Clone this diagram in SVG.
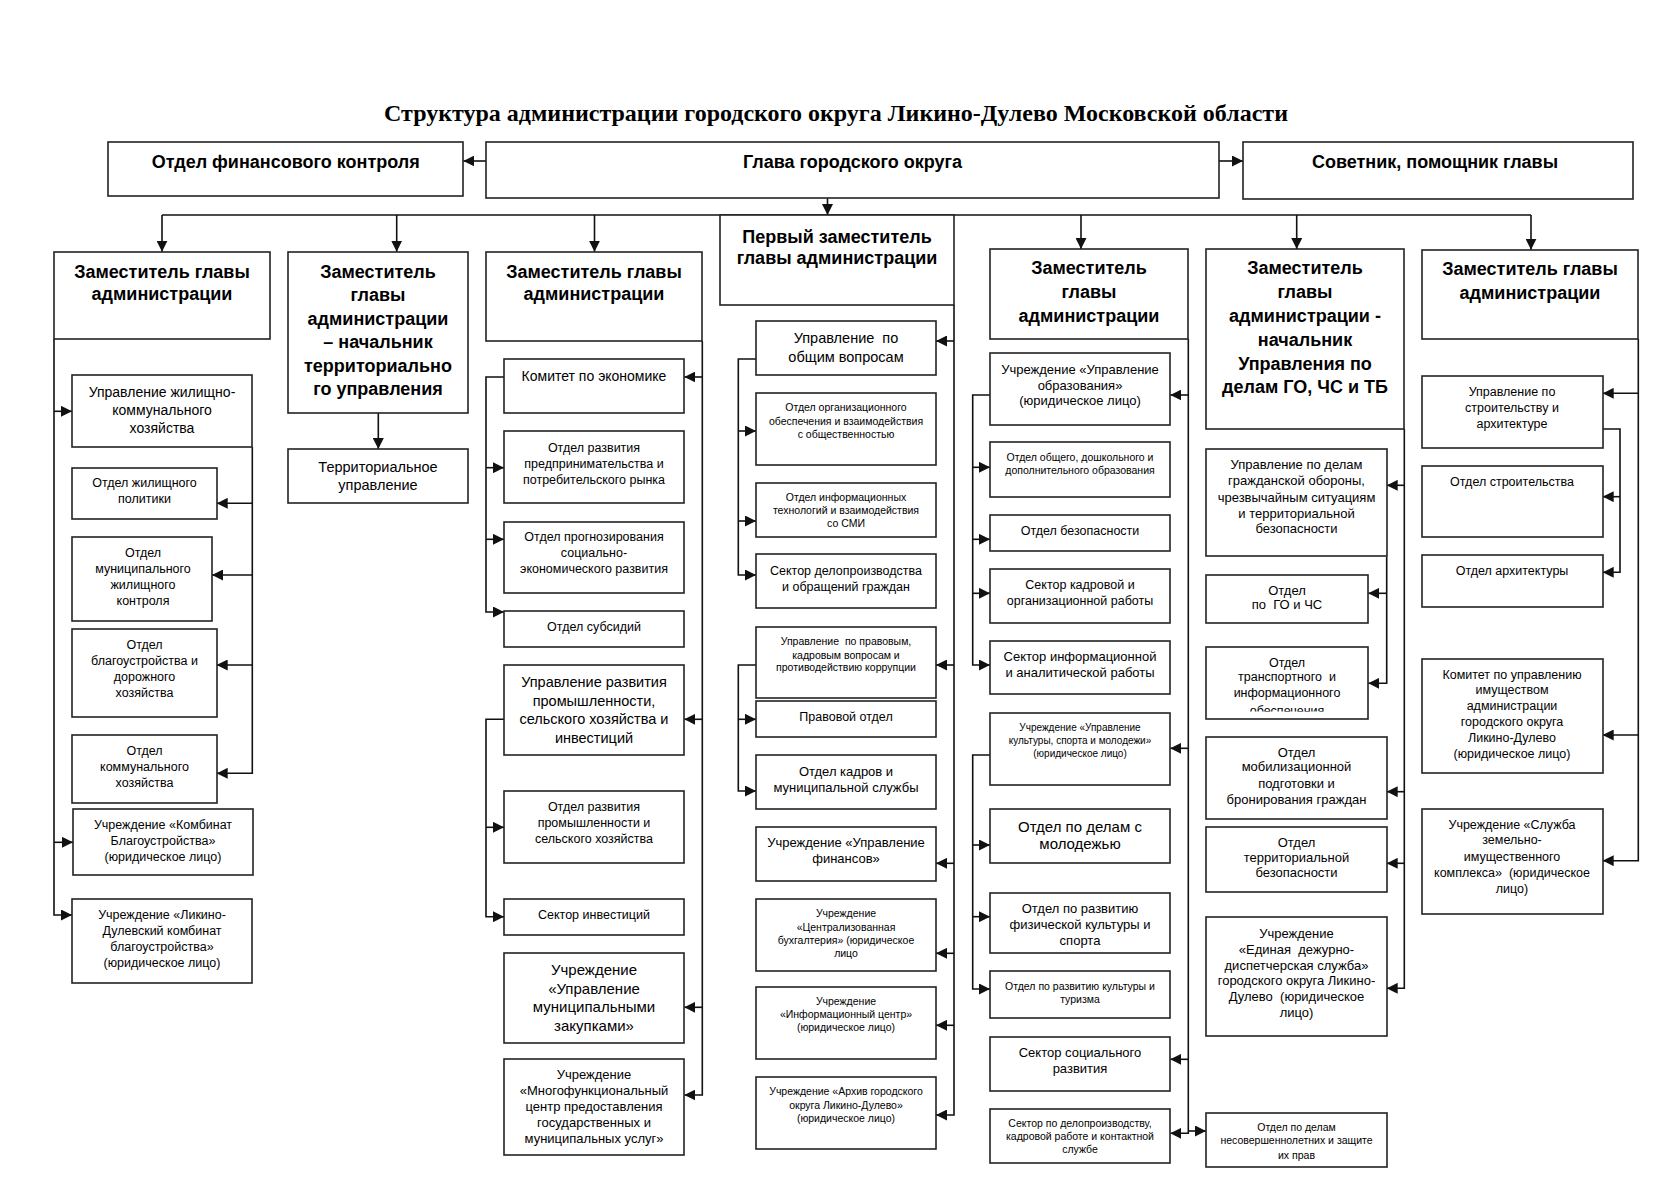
<svg xmlns="http://www.w3.org/2000/svg" width="1676" height="1184" viewBox="0 0 1676 1184">
<defs>
<style>
.bx{fill:#fff;stroke:#222;stroke-width:1.6}
text{font-family:"Liberation Sans",Arial,sans-serif;text-anchor:middle;fill:#000}
.title{font-family:"Liberation Serif","Times New Roman",serif;font-weight:bold;font-size:24px}
.h{font-weight:bold;font-size:18px}
.f15{font-size:15px}
.f145{font-size:14.5px}
.f14{font-size:14px}
.f13{font-size:13px}
.f125{font-size:12.5px}
.f105{font-size:10.5px}
.f10{font-size:10px}
.ln{fill:none;stroke:#111;stroke-width:1.6}
.ar{fill:none;stroke:#111;stroke-width:1.6;marker-end:url(#ah)}
</style>
<marker id="ah" viewBox="0 0 10 10" refX="10" refY="5" markerWidth="11" markerHeight="11" markerUnits="userSpaceOnUse" orient="auto">
<path d="M0,0 L10,5 L0,10 z" fill="#111"/>
</marker>
<clipPath id="clipTr"><rect x="1206" y="647" width="162" height="64.5"/></clipPath>
</defs>
<rect width="1676" height="1184" fill="#fff"/>

<text class="title" x="836" y="121">Структура администрации городского округа Ликино-Дулево Московской области</text>

<g id="connectors">
<path class="ar" d="M486,161 H463.3"/>
<path class="ar" d="M1219,161 H1243"/>
<path class="ar" d="M827.5,198.3 V215"/>
<path class="ln" d="M162,215 H1531"/>
<path class="ar" d="M162,215 V251.7"/>
<path class="ar" d="M396.7,215 V251.7"/>
<path class="ar" d="M594.5,215 V251.7"/>
<path class="ar" d="M1081,215 V249"/>
<path class="ar" d="M1296.7,215 V249"/>
<path class="ar" d="M1531,215 V249.7"/>
<!-- col1 -->
<path class="ar" d="M54,339 V915 H72"/>
<path class="ar" d="M54,411.3 H72"/>
<path class="ar" d="M54,842.3 H73"/>
<path class="ar" d="M252.3,447 V773.3 H216.7"/>
<path class="ar" d="M252.3,503.3 H216.7"/>
<path class="ar" d="M252.3,575 H212"/>
<path class="ar" d="M252.3,665 H216.7"/>
<!-- col2 -->
<path class="ar" d="M378.3,413 V449"/>
<!-- col3 -->
<path class="ar" d="M702.3,341 V1095 H684.3"/>
<path class="ar" d="M702.3,377 H684.3"/>
<path class="ar" d="M702.3,719.3 H684.3"/>
<path class="ar" d="M702.3,1007.3 H684.3"/>
<path class="ar" d="M504,377 H486 V612 H504"/>
<path class="ar" d="M486,467.7 H504"/>
<path class="ar" d="M486,539.3 H504"/>
<path class="ar" d="M504,719.3 H486 V916.7 H504"/>
<path class="ar" d="M486,827.3 H504"/>
<!-- col4 -->
<path class="ar" d="M954,305 V1115 H936"/>
<path class="ar" d="M954,341 H936"/>
<path class="ar" d="M954,665 H936"/>
<path class="ar" d="M954,863.3 H936"/>
<path class="ar" d="M954,953.3 H936"/>
<path class="ar" d="M954,1025.3 H936"/>
<path class="ar" d="M756,359 H738.3 V575 H756"/>
<path class="ar" d="M738.3,431 H756"/>
<path class="ar" d="M738.3,521 H756"/>
<path class="ar" d="M756,665 H738.3 V791 H756"/>
<path class="ar" d="M738.3,719.3 H756"/>
<!-- col5 -->
<path class="ar" d="M1188.3,339 V1133.3 H1170.3"/>
<path class="ar" d="M1188.3,395 H1170.3"/>
<path class="ar" d="M1188.3,748.3 H1170.3"/>
<path class="ar" d="M1188.3,1059.3 H1170.3"/>
<path class="ar" d="M1188.3,1131 H1206"/>
<path class="ar" d="M990,395 H972.7 V665 H990"/>
<path class="ar" d="M972.7,467.3 H990"/>
<path class="ar" d="M972.7,539.3 H990"/>
<path class="ar" d="M972.7,593.3 H990"/>
<path class="ar" d="M990,755 H972.7 V989 H990"/>
<path class="ar" d="M972.7,845 H990"/>
<path class="ar" d="M972.7,916.7 H990"/>
<!-- col6 -->
<path class="ar" d="M1404.3,429 V988.3 H1386.7"/>
<path class="ar" d="M1404.3,485.3 H1386.7"/>
<path class="ar" d="M1404.3,791.7 H1386.7"/>
<path class="ar" d="M1404.3,863.3 H1386.7"/>
<path class="ar" d="M1386.7,556.7 V683.3 H1368.3"/>
<path class="ar" d="M1386.7,593.3 H1368.3"/>
<!-- col7 -->
<path class="ar" d="M1638.3,339 V860.7 H1602.7"/>
<path class="ar" d="M1638.3,393.3 H1602.7"/>
<path class="ar" d="M1638.3,735 H1602.7"/>
<path class="ar" d="M1602.7,429 H1620 V572.3 H1602.7"/>
<path class="ar" d="M1620,496.7 H1602.7"/>
</g>

<!-- top -->
<g id="fin"><rect class="bx" x="108" y="142" width="355" height="54"/><text class="h" x="285.7" y="167.6">Отдел финансового контроля</text></g>
<g id="glava"><rect class="bx" x="486" y="142" width="733" height="56"/><text class="h" x="852.5" y="167.6">Глава городского округа</text></g>
<g id="sovetnik"><rect class="bx" x="1243" y="142" width="390" height="57"/><text class="h" x="1435" y="167.6">Советник, помощник главы</text></g>

<!-- col1 -->
<g id="c1h"><rect class="bx" x="54" y="252" width="216" height="87"/><text class="h" x="162"><tspan x="162" y="277.6">Заместитель главы</tspan><tspan x="162" y="300.2">администрации</tspan></text></g>
<g id="c1b1"><rect class="bx" x="72" y="375" width="180" height="72"/><text class="f14"><tspan x="162" y="397.3">Управление жилищно-</tspan><tspan x="162" y="415.3">коммунального</tspan><tspan x="162" y="433.3">хозяйства</tspan></text></g>
<g id="c1b2"><rect class="bx" x="72" y="468" width="145" height="51"/><text class="f125"><tspan x="144.5" y="487.4">Отдел жилищного</tspan><tspan x="144.5" y="503.4">политики</tspan></text></g>
<g id="c1b3"><rect class="bx" x="72" y="537" width="140" height="84"/><text class="f125"><tspan x="143" y="557">Отдел</tspan><tspan x="143" y="573">муниципального</tspan><tspan x="143" y="589">жилищного</tspan><tspan x="143" y="605">контроля</tspan></text></g>
<g id="c1b4"><rect class="bx" x="72" y="629" width="145" height="88"/><text class="f125"><tspan x="144.5" y="649">Отдел</tspan><tspan x="144.5" y="665">благоустройства и</tspan><tspan x="144.5" y="681">дорожного</tspan><tspan x="144.5" y="697">хозяйства</tspan></text></g>
<g id="c1b5"><rect class="bx" x="72" y="735" width="145" height="68"/><text class="f125"><tspan x="144.5" y="755">Отдел</tspan><tspan x="144.5" y="771">коммунального</tspan><tspan x="144.5" y="787">хозяйства</tspan></text></g>
<g id="c1b6"><rect class="bx" x="73" y="809" width="180" height="66"/><text class="f125"><tspan x="163" y="829">Учреждение «Комбинат</tspan><tspan x="163" y="845">Благоустройства»</tspan><tspan x="163" y="861">(юридическое лицо)</tspan></text></g>
<g id="c1b7"><rect class="bx" x="72" y="899" width="180" height="84"/><text class="f125"><tspan x="162" y="919">Учреждение «Ликино-</tspan><tspan x="162" y="935">Дулевский комбинат</tspan><tspan x="162" y="951">благоустройства»</tspan><tspan x="162" y="967">(юридическое лицо)</tspan></text></g>

<!-- col2 -->
<g id="c2h"><rect class="bx" x="288" y="252" width="180" height="161"/><text class="h"><tspan x="378" y="277.6">Заместитель</tspan><tspan x="378" y="300.9">главы</tspan><tspan x="378" y="324.9">администрации</tspan><tspan x="378" y="348.2">– начальник</tspan><tspan x="378" y="371.9">территориально</tspan><tspan x="378" y="395.2">го управления</tspan></text></g>
<g id="c2b1"><rect class="bx" x="288" y="449" width="180" height="54"/><text class="f145"><tspan x="378" y="471.5">Территориальное</tspan><tspan x="378" y="489.8">управление</tspan></text></g>

<!-- col3 -->
<g id="c3h"><rect class="bx" x="486" y="252" width="216" height="89"/><text class="h"><tspan x="594" y="277.6">Заместитель главы</tspan><tspan x="594" y="300">администрации</tspan></text></g>
<g id="c3b1"><rect class="bx" x="504" y="359" width="180" height="54"/><text class="f14" x="594" y="381.3">Комитет по экономике</text></g>
<g id="c3b2"><rect class="bx" x="504" y="431" width="180" height="72"/><text class="f125"><tspan x="594" y="451.5">Отдел развития</tspan><tspan x="594" y="467.5">предпринимательства и</tspan><tspan x="594" y="483.5">потребительского рынка</tspan></text></g>
<g id="c3b3"><rect class="bx" x="504" y="522" width="180" height="71"/><text class="f125"><tspan x="594" y="541">Отдел прогнозирования</tspan><tspan x="594" y="557">социально-</tspan><tspan x="594" y="573">экономического развития</tspan></text></g>
<g id="c3b4"><rect class="bx" x="504" y="611" width="180" height="36"/><text class="f125" x="594" y="631.1">Отдел субсидий</text></g>
<g id="c3b5"><rect class="bx" x="504" y="665" width="180" height="90"/><text class="f145"><tspan x="594" y="687">Управление развития</tspan><tspan x="594" y="705.5">промышленности,</tspan><tspan x="594" y="724">сельского хозяйства и</tspan><tspan x="594" y="742.5">инвестиций</tspan></text></g>
<g id="c3b6"><rect class="bx" x="504" y="791" width="180" height="72"/><text class="f125"><tspan x="594" y="811">Отдел развития</tspan><tspan x="594" y="827">промышленности и</tspan><tspan x="594" y="843">сельского хозяйства</tspan></text></g>
<g id="c3b7"><rect class="bx" x="504" y="899" width="180" height="36"/><text class="f125" x="594" y="919">Сектор инвестиций</text></g>
<g id="c3b8"><rect class="bx" x="504" y="953" width="180" height="90"/><text class="f15"><tspan x="594" y="975">Учреждение</tspan><tspan x="594" y="993.5">«Управление</tspan><tspan x="594" y="1012">муниципальными</tspan><tspan x="594" y="1030.5">закупками»</tspan></text></g>
<g id="c3b9"><rect class="bx" x="504" y="1059" width="180" height="96"/><text class="f13"><tspan x="594" y="1079.3">Учреждение</tspan><tspan x="594" y="1095.1">«Многофункциональный</tspan><tspan x="594" y="1110.9">центр предоставления</tspan><tspan x="594" y="1126.7">государственных и</tspan><tspan x="594" y="1142.5">муниципальных услуг»</tspan></text></g>

<!-- col4 -->
<g id="c4h"><rect class="bx" x="720" y="215" width="234" height="90"/><text class="h"><tspan x="837" y="242.6">Первый заместитель</tspan><tspan x="837" y="264.2">главы администрации</tspan></text></g>
<g id="c4b1"><rect class="bx" x="756" y="321" width="180" height="54"/><text class="f145" xml:space="preserve"><tspan x="846" y="343.1">Управление  по</tspan><tspan x="846" y="361.5">общим вопросам</tspan></text></g>
<g id="c4b2"><rect class="bx" x="756" y="393" width="180" height="72"/><text class="f105"><tspan x="846" y="411.2">Отдел организационного</tspan><tspan x="846" y="424.5">обеспечения и взаимодействия</tspan><tspan x="846" y="437.8">с общественностью</tspan></text></g>
<g id="c4b3"><rect class="bx" x="756" y="483" width="180" height="54"/><text class="f105"><tspan x="846" y="501.2">Отдел информационных</tspan><tspan x="846" y="514.2">технологий и взаимодействия</tspan><tspan x="846" y="527.2">со СМИ</tspan></text></g>
<g id="c4b4"><rect class="bx" x="756" y="554" width="180" height="54"/><text class="f125"><tspan x="846" y="575.1">Сектор делопроизводства</tspan><tspan x="846" y="591.1">и обращений граждан</tspan></text></g>
<g id="c4b5"><rect class="bx" x="756" y="627" width="180" height="71"/><text class="f105" xml:space="preserve"><tspan x="846" y="645.2">Управление  по правовым,</tspan><tspan x="846" y="658.5">кадровым вопросам и</tspan><tspan x="846" y="671.2">противодействию коррупции</tspan></text></g>
<g id="c4b6"><rect class="bx" x="756" y="701" width="180" height="36"/><text class="f125" x="846" y="721.1">Правовой отдел</text></g>
<g id="c4b7"><rect class="bx" x="756" y="755" width="180" height="54"/><text class="f13"><tspan x="846" y="775.6">Отдел кадров и</tspan><tspan x="846" y="791.6">муниципальной службы</tspan></text></g>
<g id="c4b8"><rect class="bx" x="756" y="827" width="180" height="54"/><text class="f13"><tspan x="846" y="847">Учреждение «Управление</tspan><tspan x="846" y="863.3">финансов»</tspan></text></g>
<g id="c4b9"><rect class="bx" x="756" y="899" width="180" height="72"/><text class="f105"><tspan x="846" y="917">Учреждение</tspan><tspan x="846" y="930.5">«Централизованная</tspan><tspan x="846" y="944">бухгалтерия» (юридическое</tspan><tspan x="846" y="957.3">лицо</tspan></text></g>
<g id="c4b10"><rect class="bx" x="756" y="987" width="180" height="72"/><text class="f105"><tspan x="846" y="1004.8">Учреждение</tspan><tspan x="846" y="1018.2">«Информационный центр»</tspan><tspan x="846" y="1031.2">(юридическое лицо)</tspan></text></g>
<g id="c4b11"><rect class="bx" x="756" y="1077" width="180" height="72"/><text class="f105"><tspan x="846" y="1094.8">Учреждение «Архив городского</tspan><tspan x="846" y="1108.5">округа Ликино-Дулево»</tspan><tspan x="846" y="1122.2">(юридическое лицо)</tspan></text></g>

<!-- col5 -->
<g id="c5h"><rect class="bx" x="990" y="249" width="198" height="90"/><text class="h"><tspan x="1089" y="274.2">Заместитель</tspan><tspan x="1089" y="298.2">главы</tspan><tspan x="1089" y="321.9">администрации</tspan></text></g>
<g id="c5b1"><rect class="bx" x="990" y="353" width="180" height="72"/><text class="f13"><tspan x="1080" y="373.6">Учреждение «Управление</tspan><tspan x="1080" y="389.6">образования»</tspan><tspan x="1080" y="405.3">(юридическое лицо)</tspan></text></g>
<g id="c5b2"><rect class="bx" x="990" y="442" width="180" height="55"/><text class="f105"><tspan x="1080" y="461.2">Отдел общего, дошкольного и</tspan><tspan x="1080" y="474.2">дополнительного образования</tspan></text></g>
<g id="c5b3"><rect class="bx" x="990" y="515" width="180" height="36"/><text class="f125" x="1080" y="535.1">Отдел безопасности</text></g>
<g id="c5b4"><rect class="bx" x="990" y="569" width="180" height="54"/><text class="f125"><tspan x="1080" y="589.1">Сектор кадровой и</tspan><tspan x="1080" y="605.1">организационной работы</tspan></text></g>
<g id="c5b5"><rect class="bx" x="990" y="641" width="180" height="53"/><text class="f13"><tspan x="1080" y="661">Сектор информационной</tspan><tspan x="1080" y="677">и аналитической работы</tspan></text></g>
<g id="c5b6"><rect class="bx" x="990" y="713" width="180" height="72"/><text class="f10"><tspan x="1080" y="731">Учреждение «Управление</tspan><tspan x="1080" y="744">культуры, спорта и молодежи»</tspan><tspan x="1080" y="757">(юридическое лицо)</tspan></text></g>
<g id="c5b7"><rect class="bx" x="990" y="809" width="180" height="54"/><text class="f15"><tspan x="1080" y="831.7">Отдел по делам с</tspan><tspan x="1080" y="849.3">молодежью</tspan></text></g>
<g id="c5b8"><rect class="bx" x="990" y="893" width="180" height="60"/><text class="f13"><tspan x="1080" y="913.3">Отдел по развитию</tspan><tspan x="1080" y="929.3">физической культуры и</tspan><tspan x="1080" y="945">спорта</tspan></text></g>
<g id="c5b9"><rect class="bx" x="990" y="971" width="180" height="47"/><text class="f105"><tspan x="1080" y="989.5">Отдел по развитию культуры и</tspan><tspan x="1080" y="1002.8">туризма</tspan></text></g>
<g id="c5b10"><rect class="bx" x="990" y="1037" width="180" height="54"/><text class="f13"><tspan x="1080" y="1057">Сектор социального</tspan><tspan x="1080" y="1073.3">развития</tspan></text></g>
<g id="c5b11"><rect class="bx" x="990" y="1109" width="180" height="54"/><text class="f105"><tspan x="1080" y="1127.2">Сектор по делопроизводству,</tspan><tspan x="1080" y="1140.2">кадровой работе и контактной</tspan><tspan x="1080" y="1152.8">службе</tspan></text></g>

<!-- col6 -->
<g id="c6h"><rect class="bx" x="1206" y="249" width="198" height="180"/><text class="h"><tspan x="1305" y="274.2">Заместитель</tspan><tspan x="1305" y="298.2">главы</tspan><tspan x="1305" y="322.2">администрации -</tspan><tspan x="1305" y="345.9">начальник</tspan><tspan x="1305" y="369.9">Управления по</tspan><tspan x="1305" y="392.9">делам ГО, ЧС и ТБ</tspan></text></g>
<g id="c6b1"><rect class="bx" x="1206" y="449" width="181" height="107"/><text class="f13"><tspan x="1296.5" y="469.3">Управление по делам</tspan><tspan x="1296.5" y="485.3">гражданской обороны,</tspan><tspan x="1296.5" y="501.6">чрезвычайным ситуациям</tspan><tspan x="1296.5" y="517.6">и территориальной</tspan><tspan x="1296.5" y="533.3">безопасности</tspan></text></g>
<g id="c6b2"><rect class="bx" x="1206" y="575" width="162" height="48"/><text class="f13" xml:space="preserve"><tspan x="1287" y="595.3">Отдел</tspan><tspan x="1287" y="609.3">по  ГО и ЧС</tspan></text></g>
<g id="c6b3"><rect class="bx" x="1206" y="647" width="162" height="72"/><text class="f125" clip-path="url(#clipTr)" xml:space="preserve"><tspan x="1287" y="667.4">Отдел</tspan><tspan x="1287" y="681.4">транспортного  и</tspan><tspan x="1287" y="697.4">информационного</tspan><tspan x="1287" y="714.5">обеспечения</tspan></text></g>
<g id="c6b4"><rect class="bx" x="1206" y="737" width="181" height="82"/><text class="f13"><tspan x="1296.5" y="757.3">Отдел</tspan><tspan x="1296.5" y="771.3">мобилизационной</tspan><tspan x="1296.5" y="787.6">подготовки и</tspan><tspan x="1296.5" y="803.6">бронирования граждан</tspan></text></g>
<g id="c6b5"><rect class="bx" x="1206" y="827" width="181" height="65"/><text class="f13"><tspan x="1296.5" y="847">Отдел</tspan><tspan x="1296.5" y="861.6">территориальной</tspan><tspan x="1296.5" y="877.3">безопасности</tspan></text></g>
<g id="c6b6"><rect class="bx" x="1206" y="917" width="181" height="119"/><text class="f13" xml:space="preserve"><tspan x="1296.5" y="937.6">Учреждение</tspan><tspan x="1296.5" y="953.6">«Единая  дежурно-</tspan><tspan x="1296.5" y="969.6">диспетчерская служба»</tspan><tspan x="1296.5" y="985.3">городского округа Ликино-</tspan><tspan x="1296.5" y="1001.3">Дулево  (юридическое</tspan><tspan x="1296.5" y="1017">лицо)</tspan></text></g>
<g id="c6b7"><rect class="bx" x="1206" y="1113" width="181" height="54"/><text class="f105"><tspan x="1296.5" y="1131.2">Отдел по делам</tspan><tspan x="1296.5" y="1144.2">несовершеннолетних и защите</tspan><tspan x="1296.5" y="1158.5">их прав</tspan></text></g>

<!-- col7 -->
<g id="c7h"><rect class="bx" x="1422" y="250" width="216" height="89"/><text class="h"><tspan x="1530" y="275.2">Заместитель главы</tspan><tspan x="1530" y="299.2">администрации</tspan></text></g>
<g id="c7b1"><rect class="bx" x="1422" y="376" width="181" height="72"/><text class="f125"><tspan x="1512" y="396.4">Управление по</tspan><tspan x="1512" y="412.4">строительству и</tspan><tspan x="1512" y="428.1">архитектуре</tspan></text></g>
<g id="c7b2"><rect class="bx" x="1422" y="466" width="181" height="71"/><text class="f125" x="1512" y="485.8">Отдел строительства</text></g>
<g id="c7b3"><rect class="bx" x="1422" y="555" width="181" height="52"/><text class="f125" x="1512" y="575.1">Отдел архитектуры</text></g>
<g id="c7b4"><rect class="bx" x="1422" y="659" width="181" height="114"/><text class="f125"><tspan x="1512" y="679.1">Комитет по управлению</tspan><tspan x="1512" y="694.1">имуществом</tspan><tspan x="1512" y="710.1">администрации</tspan><tspan x="1512" y="725.8">городского округа</tspan><tspan x="1512" y="741.8">Ликино-Дулево</tspan><tspan x="1512" y="758.1">(юридическое лицо)</tspan></text></g>
<g id="c7b5"><rect class="bx" x="1422" y="809" width="181" height="105"/><text class="f125" xml:space="preserve"><tspan x="1512" y="829.1">Учреждение «Служба</tspan><tspan x="1512" y="844.1">земельно-</tspan><tspan x="1512" y="860.8">имущественного</tspan><tspan x="1512" y="876.8">комплекса»  (юридическое</tspan><tspan x="1512" y="892.8">лицо)</tspan></text></g>
</svg>
